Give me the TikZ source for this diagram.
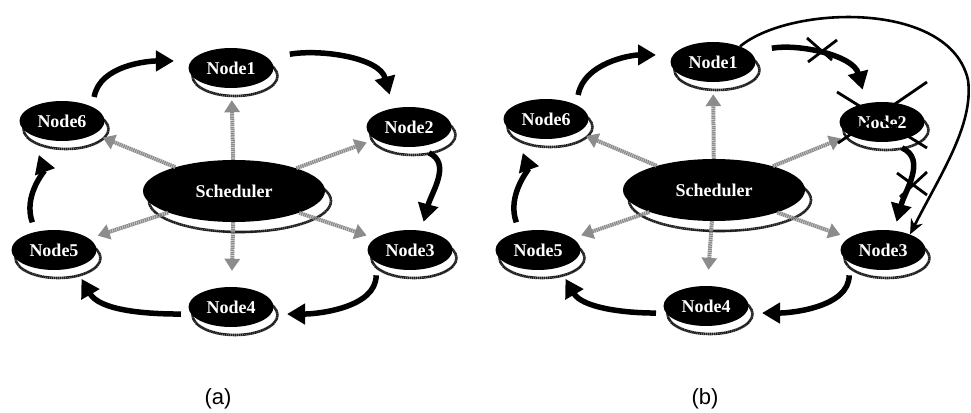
\documentclass[tikz,border=0pt]{standalone}
\usepackage{fontspec}
\setmainfont{Liberation Serif}
\newfontfamily\capfont{Liberation Sans}
\usepackage{tikz}
\usetikzlibrary{arrows.meta,calc,shapes.geometric}
\definecolor{rimgray}{rgb}{0.12,0.12,0.12}
\definecolor{feedgray}{rgb}{0.55,0.55,0.55}

\begin{document}
\begin{tikzpicture}[x=1pt,y=1pt,
    disc/.style={ellipse, fill=black, text=white, inner sep=0pt,
      font=\fontsize{18}{20}\selectfont\bfseries,
      minimum width=85pt, minimum height=40pt,
      preaction={draw=rimgray, fill=white, line width=2.6pt,
        dash pattern=on 1.6pt off 0.4pt,
        transform canvas={shift={(4pt,-8pt)}}}},
    hub/.style={ellipse, fill=black, text=white, inner sep=0pt,
      font=\fontsize{18}{20}\selectfont\bfseries,
      minimum width=182pt, minimum height=62pt,
      preaction={draw=rimgray, fill=white, line width=2.6pt,
        dash pattern=on 1.6pt off 0.4pt,
        transform canvas={shift={(6pt,-10pt)}}}},
    flow/.style={line width=5.5pt, -{Triangle[length=18pt,width=20pt]}},
    feed/.style={draw=feedgray, line width=4pt, dash pattern=on 1.5pt off 0.6pt,
      -{Triangle[length=12pt,width=15pt]}, shorten >=9pt},
    jump/.style={line width=2.6pt, -{Stealth[length=15pt,width=13pt]}},
    cut/.style={line width=2.8pt},
    caption/.style={font=\capfont\fontsize{22}{24}\selectfont}]
  \useasboundingbox (0,0) rectangle (971,-412);

  %Nodes, hub is node 0
  \foreach \n/\x/\y/\lbl in {a1/231/68/Node1, a2/409/127/Node2, a3/410/250/Node3,
      a4/231/307/Node4, a5/54/250/Node5, a6/62/121/Node6,
      b1/713/62/Node1, b2/882/122/Node2, b3/883/250/Node3,
      b4/706/306/Node4, b5/538/250/Node5, b6/546/119/Node6}
    \node[disc] (\n) at (\x,-\y) {\lbl};
  \node[hub] (a0) at (234,-191) {Scheduler};
  \node[hub] (b0) at (714,-190) {Scheduler};

  %Ring and scheduler arrows of both panels
  \foreach \p in {a,b} {
      \draw[feed, shorten >=12pt] (\p0) -- (\p1);
      \draw[feed] (\p0) -- (\p2);
      \draw[feed] (\p0) -- (\p3);
      \draw[feed, shorten >=16pt] (\p0) -- (\p4);
      \draw[feed] (\p0) -- (\p5);
      \draw[feed] (\p0) -- (\p6);
      \draw[flow, shorten <=10pt, shorten >=17pt] (\p6.25) to[out=80,in=180] (\p1.170);
      \draw[flow, shorten <=22pt, shorten >=14pt] (\p1.15) to[out=10,in=105] (\p2.130);
      \draw[flow, shorten <=14pt, shorten >=9pt] (\p2.-70) to[out=-25,in=75,looseness=1.2] (\p3.60);
      \draw[flow, shorten <=13pt, shorten >=16pt] (\p3.-160) to[out=-90,in=0] (\p4.-10);
      \draw[flow, shorten <=10pt, shorten >=13pt] (\p4.190) to[out=180,in=-60] (\p5.-40);
      \draw[flow, shorten <=10pt, shorten >=21pt] (\p5.135) to[out=110,in=-70] (\p6.-155);
    }

  %Panel (b): Node2 fails, Node1 jumps to Node3
  \draw[cut] ($(b1)+(94,24)$) -- ($(b1)+(119,2)$);
  \draw[cut] ($(b1)+(124,22)$) -- ($(b1)+(95,0)$);
  \draw[cut] ($(b2)+(-45,30)$) -- ($(b2)+(45,-26)$);
  \draw[cut] ($(b2)+(45,40)$) -- ($(b2)+(-44,-21)$);
  \draw[cut] ($(b2)+(15,-51)$) -- ($(b2)+(45,-73)$);
  \draw[cut] ($(b2)+(45,-50)$) -- ($(b2)+(18,-75)$);
  \coordinate (bend) at (968,-80);
  \draw[jump] (b1.30) .. controls (790,-5) and (950,0) .. (bend)
    .. controls (974,-125) and (940,-175) .. (b3.30);

  %Captions
  \node[caption] (capa) at (218,-399) {(a)};
  \node[caption] (capb) at (705,-399) {(b)};
\end{tikzpicture}
\end{document}
